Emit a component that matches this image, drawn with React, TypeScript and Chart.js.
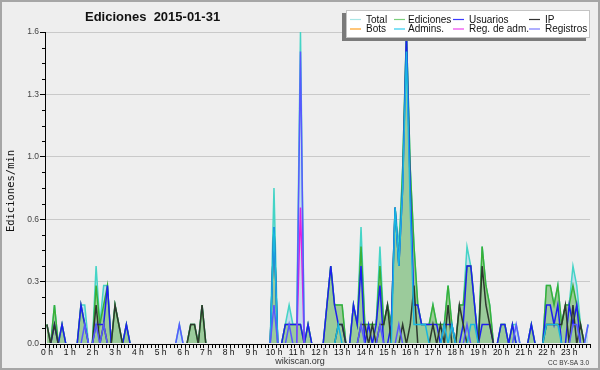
import React, { useEffect, useRef } from 'react';
import { Chart, registerables } from 'chart.js';

Chart.register(...registerables);

// ---- categories: 10-minute bins of the day (start minute) ----
const BIN_START_MIN: number[] = Array.from({ length: 144 }, (_, i) => i * 10);

// ---- tick values / labels ----
const X_TICKS = [0, 1, 2, 3, 4, 5, 6, 7, 8, 9, 10, 11, 12, 13, 14, 15, 16, 17, 18, 19, 20, 21, 22, 23, 24];
const X_TICK_LABELS = ['0 h', '1 h', '2 h', '3 h', '4 h', '5 h', '6 h', '7 h', '8 h', '9 h', '10 h', '11 h', '12 h',
  '13 h', '14 h', '15 h', '16 h', '17 h', '18 h', '19 h', '20 h', '21 h', '22 h', '23 h', ''];
const Y_TICKS = [0, 0.32, 0.64, 0.96, 1.28, 1.6];
const Y_TICK_LABELS = ['0.0', '0.3', '0.6', '1.0', '1.3', '1.6'];

const TITLE = 'Ediciones  2015-01-31';
const Y_TITLE = 'Ediciones/min';
const LEGEND_LABELS = ['Total', 'Ediciones', 'Usuarios', 'IP', 'Bots', 'Admins.', 'Reg. de adm.', 'Registros'];

// ---- series (edits per minute, per 10-minute bin) ----
const TOTAL = [
  0.1, 0, 0.2, 0, 0.1, 0, // 0h
  0, 0, 0, 0.2, 0.2, 0, // 1h
  0, 0.4, 0.1, 0.3, 0.3, 0, // 2h
  0.2, 0.1, 0, 0.1, 0, 0, // 3h
  0, 0, 0, 0, 0, 0, // 4h
  0, 0, 0, 0, 0, 0.1, // 5h
  0, 0, 0.1, 0.1, 0, 0.2, // 6h
  0, 0, 0, 0, 0, 0, // 7h
  0, 0, 0, 0, 0, 0, // 8h
  0, 0, 0, 0, 0, 0, // 9h
  0.8, 0, 0, 0.1, 0.2, 0.1, // 10h
  0.1, 1.6, 0, 0.1, 0, 0, // 11h
  0, 0, 0.2, 0.4, 0.2, 0.2, // 12h
  0.2, 0, 0, 0.2, 0.1, 0.6, // 13h
  0.1, 0.1, 0.1, 0.1, 0.5, 0.1, // 14h
  0.2, 0.1, 0.7, 0.5, 0.9, 1.6, // 15h
  0.9, 0.5, 0.2, 0.1, 0.1, 0.1, // 16h
  0.2, 0.1, 0.1, 0.1, 0.3, 0.1, // 17h
  0, 0.2, 0.2, 0.5, 0.4, 0.2, // 18h
  0, 0.5, 0.3, 0.2, 0, 0, // 19h
  0.1, 0.1, 0, 0.1, 0.1, 0, // 20h
  0, 0, 0.1, 0, 0, 0, // 21h
  0.3, 0.3, 0.2, 0.3, 0.1, 0.2, // 22h
  0.2, 0.4, 0.3, 0.1, 0, 0.1, // 23h
];

const EDICIONES = [
  0.1, 0, 0.2, 0, 0.1, 0, // 0h
  0, 0, 0, 0.2, 0.1, 0, // 1h
  0, 0.3, 0.1, 0.2, 0.3, 0, // 2h
  0.2, 0.1, 0, 0.1, 0, 0, // 3h
  0, 0, 0, 0, 0, 0, // 4h
  0, 0, 0, 0, 0, 0, // 5h
  0, 0, 0.1, 0.1, 0, 0.2, // 6h
  0, 0, 0, 0, 0, 0, // 7h
  0, 0, 0, 0, 0, 0, // 8h
  0, 0, 0, 0, 0, 0, // 9h
  0.6, 0, 0, 0.1, 0.1, 0.1, // 10h
  0.1, 0.1, 0, 0.1, 0, 0, // 11h
  0, 0, 0.2, 0.4, 0.2, 0.2, // 12h
  0.2, 0, 0, 0.2, 0.1, 0.5, // 13h
  0.1, 0.1, 0.1, 0.1, 0.4, 0.1, // 14h
  0.2, 0.1, 0.7, 0.4, 0.9, 1.6, // 15h
  0.9, 0.5, 0.2, 0.1, 0.1, 0.1, // 16h
  0.2, 0.1, 0.1, 0.1, 0.3, 0.1, // 17h
  0, 0.2, 0.2, 0.4, 0.4, 0.2, // 18h
  0, 0.5, 0.3, 0.2, 0, 0, // 19h
  0.1, 0.1, 0, 0.1, 0, 0, // 20h
  0, 0, 0.1, 0, 0, 0, // 21h
  0.3, 0.3, 0.2, 0.3, 0.1, 0.2, // 22h
  0.2, 0.3, 0.2, 0.1, 0, 0, // 23h
];

const USUARIOS = [
  0, 0, 0.1, 0, 0.1, 0, // 0h
  0, 0, 0, 0.2, 0.1, 0, // 1h
  0, 0.1, 0.1, 0.1, 0.3, 0, // 2h
  0, 0, 0, 0.1, 0, 0, // 3h
  0, 0, 0, 0, 0, 0, // 4h
  0, 0, 0, 0, 0, 0, // 5h
  0, 0, 0, 0, 0, 0, // 6h
  0, 0, 0, 0, 0, 0, // 7h
  0, 0, 0, 0, 0, 0, // 8h
  0, 0, 0, 0, 0, 0, // 9h
  0.6, 0, 0, 0.1, 0.1, 0.1, // 10h
  0.1, 0.1, 0, 0.1, 0, 0, // 11h
  0, 0, 0.2, 0.4, 0.2, 0.1, // 12h
  0.1, 0, 0, 0.2, 0.1, 0.4, // 13h
  0, 0.1, 0, 0.1, 0.3, 0, // 14h
  0, 0.1, 0.7, 0.4, 0.8, 1.6, // 15h
  0.8, 0.2, 0.2, 0.1, 0.1, 0.1, // 16h
  0.1, 0.1, 0, 0.1, 0.1, 0.1, // 17h
  0, 0, 0.1, 0.4, 0.4, 0.2, // 18h
  0, 0.1, 0.1, 0.1, 0, 0, // 19h
  0.1, 0.1, 0, 0.1, 0, 0, // 20h
  0, 0, 0.1, 0, 0, 0, // 21h
  0.2, 0.2, 0.1, 0.2, 0, 0, // 22h
  0.2, 0.1, 0.2, 0, 0, 0, // 23h
];

const IP = [
  0.1, 0, 0.1, 0, 0, 0, // 0h
  0, 0, 0, 0, 0, 0, // 1h
  0, 0.2, 0, 0.1, 0, 0, // 2h
  0.2, 0.1, 0, 0, 0, 0, // 3h
  0, 0, 0, 0, 0, 0, // 4h
  0, 0, 0, 0, 0, 0, // 5h
  0, 0, 0.1, 0.1, 0, 0.2, // 6h
  0, 0, 0, 0, 0, 0, // 7h
  0, 0, 0, 0, 0, 0, // 8h
  0, 0, 0, 0, 0, 0, // 9h
  0, 0, 0, 0, 0, 0, // 10h
  0, 0, 0, 0, 0, 0, // 11h
  0, 0, 0, 0, 0, 0.1, // 12h
  0.1, 0, 0, 0, 0, 0.1, // 13h
  0.1, 0, 0.1, 0, 0.1, 0.1, // 14h
  0.2, 0, 0, 0, 0.1, 0, // 15h
  0.1, 0.3, 0, 0, 0, 0, // 16h
  0.1, 0, 0.1, 0, 0.2, 0, // 17h
  0, 0.2, 0.1, 0, 0, 0, // 18h
  0, 0.4, 0.2, 0.1, 0, 0, // 19h
  0, 0, 0, 0, 0, 0, // 20h
  0, 0, 0, 0, 0, 0, // 21h
  0.1, 0.1, 0.1, 0.1, 0.1, 0.2, // 22h
  0, 0.2, 0, 0.1, 0, 0, // 23h
];

const BOTS = [
  0, 0, 0, 0, 0, 0, 0, 0, 0, 0, 0, 0, 0, 0, 0, 0, 0, 0, 0, 0, 0, 0, 0, 0,
  0, 0, 0, 0, 0, 0, 0, 0, 0, 0, 0, 0, 0, 0, 0, 0, 0, 0, 0, 0, 0, 0, 0, 0,
  0, 0, 0, 0, 0, 0, 0, 0, 0, 0, 0, 0, 0, 0, 0, 0, 0, 0, 0, 0, 0, 0, 0, 0,
  0, 0, 0, 0, 0, 0, 0, 0, 0, 0, 0, 0, 0, 0, 0, 0, 0, 0, 0, 0, 0, 0, 0, 0,
  0, 0, 0, 0, 0, 0, 0, 0, 0, 0, 0, 0, 0, 0, 0, 0, 0, 0, 0, 0, 0, 0, 0, 0,
  0, 0, 0, 0, 0, 0, 0, 0, 0, 0, 0, 0, 0, 0, 0, 0, 0, 0, 0, 0, 0, 0, 0, 0,
];

const ADMINS = [
  0, 0, 0, 0, 0, 0, // 0h
  0, 0, 0, 0, 0, 0, // 1h
  0, 0, 0, 0, 0, 0, // 2h
  0, 0, 0, 0, 0, 0, // 3h
  0, 0, 0, 0, 0, 0, // 4h
  0, 0, 0, 0, 0, 0, // 5h
  0, 0, 0, 0, 0, 0, // 6h
  0, 0, 0, 0, 0, 0, // 7h
  0, 0, 0, 0, 0, 0, // 8h
  0, 0, 0, 0, 0, 0, // 9h
  0.6, 0, 0, 0, 0, 0, // 10h
  0, 0, 0, 0, 0, 0, // 11h
  0, 0, 0, 0, 0, 0.1, // 12h
  0, 0, 0, 0, 0, 0, // 13h
  0, 0, 0, 0, 0, 0, // 14h
  0, 0, 0.7, 0.4, 0.8, 1.5, // 15h
  0.7, 0.1, 0.1, 0.1, 0.1, 0, // 16h
  0, 0, 0, 0.1, 0, 0.1, // 17h
  0, 0, 0, 0, 0.1, 0.1, // 18h
  0, 0, 0, 0, 0, 0, // 19h
  0, 0, 0, 0, 0, 0, // 20h
  0, 0, 0, 0, 0, 0, // 21h
  0.1, 0.1, 0.1, 0.1, 0, 0, // 22h
  0, 0, 0, 0, 0, 0, // 23h
];

const REG_ADM = [
  0, 0, 0, 0, 0, 0, 0, 0, 0, 0, 0, 0, 0, 0, 0, 0, 0, 0, 0, 0, 0, 0, 0, 0, // 0-3h
  0, 0, 0, 0, 0, 0, 0, 0, 0, 0, 0, 0, 0, 0, 0, 0, 0, 0, 0, 0, 0, 0, 0, 0, // 4-7h
  0, 0, 0, 0, 0, 0, 0, 0, 0, 0, 0, 0, 0, 0, 0, 0, 0, 0, // 8-10h
  0, 0.7, 0, 0, 0, 0, // 11h
  0, 0, 0, 0, 0, 0, 0, 0, 0, 0, 0, 0, 0, 0, 0, 0, 0, 0, 0, 0, 0, 0, 0, 0, // 12-15h
  0, 0, 0, 0, 0, 0, 0, 0, 0, 0, 0, 0, 0, 0, 0, 0, 0, 0, 0, 0, 0, 0, 0, 0, // 16-19h
  0, 0, 0, 0, 0, 0, 0, 0, 0, 0, 0, 0, 0, 0, 0, 0, 0, 0, 0, 0, 0, 0, 0, 0, // 20-23h
];

const REGISTROS = [
  0, 0, 0, 0, 0, 0, // 0h
  0, 0, 0, 0, 0.1, 0, // 1h
  0, 0.1, 0, 0.1, 0, 0, // 2h
  0, 0, 0, 0, 0, 0, // 3h
  0, 0, 0, 0, 0, 0, // 4h
  0, 0, 0, 0, 0, 0.1, // 5h
  0, 0, 0, 0, 0, 0, // 6h
  0, 0, 0, 0, 0, 0, // 7h
  0, 0, 0, 0, 0, 0, // 8h
  0, 0, 0, 0, 0, 0, // 9h
  0.2, 0, 0, 0, 0.1, 0, // 10h
  0, 1.5, 0, 0, 0, 0, // 11h
  0, 0, 0, 0, 0, 0, // 12h
  0, 0, 0, 0, 0, 0.1, // 13h
  0, 0, 0, 0, 0.1, 0, // 14h
  0, 0, 0, 0.1, 0, 0, // 15h
  0, 0, 0, 0, 0, 0, // 16h
  0, 0, 0, 0, 0, 0, // 17h
  0, 0, 0, 0.1, 0, 0, // 18h
  0, 0, 0, 0, 0, 0, // 19h
  0, 0, 0, 0, 0.1, 0, // 20h
  0, 0, 0, 0, 0, 0, // 21h
  0, 0, 0, 0, 0, 0, // 22h
  0, 0.1, 0.1, 0, 0, 0.1, // 23h
];

// ---- styles ----
const LINE_COLORS = {
  total: '#44d4c6',
  ediciones: '#38b038',
  usuarios: '#1e1ef0',
  ip: '#2e382e',
  bots: '#ffa020',
  admins: '#18b6e0',
  regadm: '#e020e0',
  registros: '#5858ff',
};
const LEGEND_COLORS = ['#a8e6e6', '#7ccf7c', '#3a3aff', '#333333', '#ffa020', '#30cdf0', '#ee44ee', '#7a7aff'];

const toPoints = (vals: number[]) => vals.map((v, i) => ({ x: (BIN_START_MIN[i] + 5) / 60, y: v }));

const decorPlugin = {
  id: 'decor',
  beforeDraw(chart: any) {
    const { ctx, width, height } = chart;
    ctx.save();
    ctx.fillStyle = '#eeeeee';
    ctx.fillRect(0, 0, width, height);
    ctx.strokeStyle = '#a6a6a6';
    ctx.lineWidth = 2;
    ctx.strokeRect(1, 1, width - 2, height - 2);
    ctx.restore();
  },
  afterDraw(chart: any) {
    const { ctx } = chart;
    const xs = chart.scales.x;
    const ys = chart.scales.y;
    ctx.save();
    // minor ticks
    ctx.strokeStyle = '#000';
    ctx.lineWidth = 1;
    ctx.beginPath();
    for (let k = 1; k < 20; k++) {
      if (k % 4 === 0) continue;
      const py = Math.round(ys.getPixelForValue(k * 0.08)) + 0.5;
      ctx.moveTo(ys.right - 3, py);
      ctx.lineTo(ys.right, py);
    }
    for (let k = 1; k < 144; k++) {
      if (k % 6 === 0) continue;
      const px = Math.round(xs.getPixelForValue(k / 6)) + 0.5;
      ctx.moveTo(px, xs.top);
      ctx.lineTo(px, xs.top + 4);
    }
    ctx.stroke();

    // title
    ctx.fillStyle = '#111';
    ctx.font = 'bold 13px "Liberation Sans", Arial, sans-serif';
    ctx.textAlign = 'left';
    ctx.textBaseline = 'alphabetic';
    ctx.fillText(TITLE, 85, 21);

    // y axis title
    ctx.save();
    ctx.translate(14, 191);
    ctx.rotate(-Math.PI / 2);
    ctx.font = '10.5px "DejaVu Sans Mono", monospace';
    ctx.textAlign = 'center';
    ctx.textBaseline = 'alphabetic';
    ctx.fillStyle = '#111';
    ctx.fillText(Y_TITLE, 0, 0);
    ctx.restore();

    // footer
    ctx.font = '9px "Liberation Sans", Arial, sans-serif';
    ctx.fillStyle = '#333';
    ctx.textAlign = 'center';
    ctx.fillText('wikiscan.org', 300, 364);
    ctx.font = '6.5px "Liberation Sans", Arial, sans-serif';
    ctx.textAlign = 'right';
    ctx.fillText('CC BY-SA 3.0', 589, 365);

    // legend box with shadow
    const bx = 346, by = 10, bw = 244, bh = 28;
    ctx.fillStyle = '#7a7a7a';
    ctx.fillRect(bx - 4, by + 3, bw, bh);
    ctx.fillStyle = '#ffffff';
    ctx.fillRect(bx, by, bw, bh);
    ctx.strokeStyle = '#c4c4c4';
    ctx.lineWidth = 1;
    ctx.strokeRect(bx + 0.5, by + 0.5, bw - 1, bh - 1);

    const colX = [350, 394, 453, 529];
    const textX = [366, 408, 469, 545];
    const rowY = [19.5, 29];
    ctx.font = '10px "Liberation Sans", Arial, sans-serif';
    ctx.textAlign = 'left';
    ctx.textBaseline = 'middle';
    LEGEND_LABELS.forEach((label, i) => {
      const c = i % 4;
      const r = Math.floor(i / 4);
      ctx.strokeStyle = LEGEND_COLORS[i];
      ctx.lineWidth = 1.2;
      ctx.beginPath();
      ctx.moveTo(colX[c], rowY[r]);
      ctx.lineTo(colX[c] + 11, rowY[r]);
      ctx.stroke();
      ctx.fillStyle = '#111';
      ctx.fillText(label, textX[c], rowY[r] + 0.5);
    });
    ctx.restore();
  },
};

const lineDs = (label: string, vals: number[], color: string, extra: any = {}) => ({
  label,
  data: toPoints(vals),
  borderColor: color,
  borderWidth: 1.5,
  pointRadius: 0,
  tension: 0,
  fill: false,
  clip: { left: 2, right: 2, top: 4, bottom: -1 },
  ...extra,
});

export default function App() {
  const ref = useRef<HTMLCanvasElement | null>(null);

  useEffect(() => {
    if (!ref.current) return;
    const chart = new Chart(ref.current, {
      type: 'line',
      data: {
        datasets: [
          lineDs('Registros', REGISTROS, LINE_COLORS.registros),
          lineDs('Reg. de adm.', REG_ADM, LINE_COLORS.regadm),
          lineDs('Admins.', ADMINS, LINE_COLORS.admins),
          lineDs('Bots', BOTS, LINE_COLORS.bots),
          lineDs('IP', IP, LINE_COLORS.ip),
          lineDs('Usuarios', USUARIOS, LINE_COLORS.usuarios),
          lineDs('Ediciones', EDICIONES, LINE_COLORS.ediciones, { fill: 'origin', backgroundColor: '#9bcb9b' }),
          lineDs('Total', TOTAL, LINE_COLORS.total, { fill: 'origin', backgroundColor: '#c4dcec' }),
        ],
      },
      options: {
        animation: false,
        responsive: false,
        devicePixelRatio: 1,
        events: [],
        layout: { padding: { left: 0, top: 32, right: 10, bottom: 0 } },
        plugins: {
          legend: { display: false },
          tooltip: { enabled: false },
          title: { display: false },
        },
        scales: {
          x: {
            type: 'linear',
            min: 0,
            max: 24,
            afterBuildTicks: (scale: any) => {
              scale.ticks = X_TICKS.map((v) => ({ value: v }));
            },
            afterFit: (scale: any) => {
              scale.height = 26;
            },
            ticks: {
              autoSkip: false,
              maxRotation: 0,
              minRotation: 0,
              padding: 0,
              labelOffset: 2,
              color: '#111',
              font: { family: '"Liberation Sans", Arial, sans-serif', size: 8.5 },
              callback: (_v: any, i: number) => X_TICK_LABELS[i],
            },
            grid: {
              display: true,
              drawOnChartArea: false,
              drawTicks: true,
              tickLength: 4,
              tickColor: '#000',
            },
            border: { display: true, color: '#000', width: 1, z: 1 },
          },
          y: {
            type: 'linear',
            min: 0,
            max: 1.6,
            afterBuildTicks: (scale: any) => {
              scale.ticks = Y_TICKS.map((v) => ({ value: v }));
            },
            afterFit: (scale: any) => {
              scale.width = 45;
            },
            ticks: {
              autoSkip: false,
              padding: 1,
              color: '#444',
              font: { family: '"Liberation Sans", Arial, sans-serif', size: 8.5 },
              callback: (_v: any, i: number) => Y_TICK_LABELS[i],
            },
            grid: {
              display: true,
              drawTicks: true,
              tickLength: 5,
              tickColor: '#000',
              color: (c: any) => (c.tick && c.tick.value === 0 ? 'rgba(0,0,0,0)' : '#c9c9c9'),
            },
            border: { display: true, color: '#000', width: 1, z: 1 },
          },
        },
      },
      plugins: [decorPlugin],
    });
    return () => chart.destroy();
  }, []);

  return (
    <div style={{ position: 'fixed', left: 0, top: 0, width: 600, height: 370 }}>
      <canvas ref={ref} width={600} height={370} style={{ display: 'block', width: 600, height: 370 }} />
    </div>
  );
}
